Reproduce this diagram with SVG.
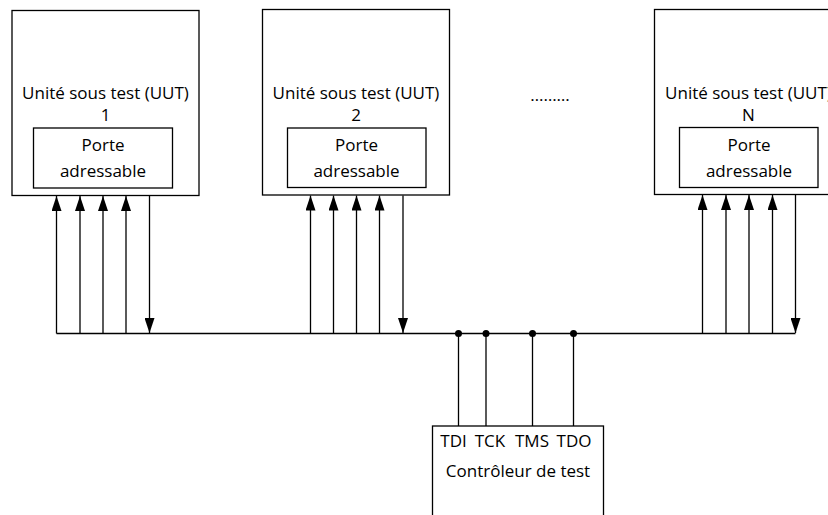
<svg xmlns="http://www.w3.org/2000/svg" width="828" height="515" viewBox="0 0 828 515">
  <style>
    .box { fill: #fff; stroke: #000; stroke-width: 1.3; }
    .wire { fill: none; stroke: #000; stroke-width: 1.3; }
    .lbl { font-family: "Open Sans", "Liberation Sans", sans-serif; font-size: 17px; fill: #000; text-anchor: middle; }
    .dot { fill: #000; }
  </style>
  <defs>
    <marker id="arrow" viewBox="0 0 15 10" refX="15" refY="5" markerWidth="15" markerHeight="10" markerUnits="userSpaceOnUse" orient="auto">
      <path d="M0,0 L15,5 L0,10 z" fill="#000"/>
    </marker>
  </defs>

  <rect width="828" height="515" fill="#fff"/>

  <!-- unit under test 1 -->
  <g id="uut1">
    <rect class="box" x="12" y="10.5" width="187" height="185"/>
    <text class="lbl" x="105.5" y="99">Unité sous test (UUT)</text>
    <text class="lbl" x="105.5" y="120.5">1</text>
    <g id="port1">
      <rect class="box" x="33.5" y="128" width="139" height="60"/>
      <text class="lbl" x="103" y="151">Porte</text>
      <text class="lbl" x="103" y="177">adressable</text>
    </g>
  </g>

  <!-- unit under test 2 -->
  <g id="uut2">
    <rect class="box" x="262.5" y="9.5" width="187" height="185.5"/>
    <text class="lbl" x="356" y="99">Unité sous test (UUT)</text>
    <text class="lbl" x="356" y="120.5">2</text>
    <g id="port2">
      <rect class="box" x="287.5" y="128" width="138.5" height="59.5"/>
      <text class="lbl" x="356.5" y="151">Porte</text>
      <text class="lbl" x="356.5" y="177">adressable</text>
    </g>
  </g>

  <!-- ellipsis between units -->
  <text id="more" class="lbl" x="550" y="101">………</text>

  <!-- unit under test N (runs past the right edge) -->
  <g id="uutN">
    <rect class="box" x="654.5" y="9.5" width="190" height="185"/>
    <text class="lbl" x="748.5" y="99">Unité sous test (UUT)</text>
    <text class="lbl" x="748.5" y="120.5">N</text>
    <g id="portN">
      <rect class="box" x="679.5" y="127.5" width="138.5" height="60"/>
      <text class="lbl" x="749" y="151">Porte</text>
      <text class="lbl" x="749" y="177">adressable</text>
    </g>
  </g>

  <!-- test controller -->
  <g id="controller">
    <rect class="box" x="432.5" y="426" width="171" height="100"/>
    <text class="lbl" x="453.5" y="447">TDI</text>
    <text class="lbl" x="490" y="447">TCK</text>
    <text class="lbl" x="532" y="447">TMS</text>
    <text class="lbl" x="574" y="447">TDO</text>
    <text class="lbl" x="518" y="477">Contrôleur de test</text>
  </g>

  <g id="connectors">
    <!-- shared bus -->
    <line class="wire" x1="56.5" y1="333.5" x2="795.5" y2="333.5"/>

    <!-- UUT 1 links -->
    <line class="wire" x1="56.5" y1="333.5" x2="56.5" y2="196" marker-end="url(#arrow)"/>
    <line class="wire" x1="80" y1="333.5" x2="80" y2="196" marker-end="url(#arrow)"/>
    <line class="wire" x1="103" y1="333.5" x2="103" y2="196" marker-end="url(#arrow)"/>
    <line class="wire" x1="126" y1="333.5" x2="126" y2="196" marker-end="url(#arrow)"/>
    <line class="wire" x1="149.5" y1="196" x2="149.5" y2="333" marker-end="url(#arrow)"/>

    <!-- UUT 2 links -->
    <line class="wire" x1="310.5" y1="333.5" x2="310.5" y2="195.5" marker-end="url(#arrow)"/>
    <line class="wire" x1="333.5" y1="333.5" x2="333.5" y2="195.5" marker-end="url(#arrow)"/>
    <line class="wire" x1="356.5" y1="333.5" x2="356.5" y2="195.5" marker-end="url(#arrow)"/>
    <line class="wire" x1="379.5" y1="333.5" x2="379.5" y2="195.5" marker-end="url(#arrow)"/>
    <line class="wire" x1="403" y1="195.5" x2="403" y2="333" marker-end="url(#arrow)"/>

    <!-- UUT N links -->
    <line class="wire" x1="702.5" y1="333.5" x2="702.5" y2="195" marker-end="url(#arrow)"/>
    <line class="wire" x1="726" y1="333.5" x2="726" y2="195" marker-end="url(#arrow)"/>
    <line class="wire" x1="749" y1="333.5" x2="749" y2="195" marker-end="url(#arrow)"/>
    <line class="wire" x1="772.5" y1="333.5" x2="772.5" y2="195" marker-end="url(#arrow)"/>
    <line class="wire" x1="795.5" y1="195" x2="795.5" y2="333" marker-end="url(#arrow)"/>

    <!-- controller taps -->
    <line class="wire" x1="458.5" y1="333.5" x2="458.5" y2="426"/>
    <line class="wire" x1="486" y1="333.5" x2="486" y2="426"/>
    <line class="wire" x1="532.5" y1="333.5" x2="532.5" y2="426"/>
    <line class="wire" x1="573.5" y1="333.5" x2="573.5" y2="426"/>
    <circle class="dot" cx="458.5" cy="333.5" r="3.5"/>
    <circle class="dot" cx="486" cy="333.5" r="3.5"/>
    <circle class="dot" cx="532.5" cy="333.5" r="3.5"/>
    <circle class="dot" cx="573.5" cy="333.5" r="3.5"/>
  </g>
</svg>
